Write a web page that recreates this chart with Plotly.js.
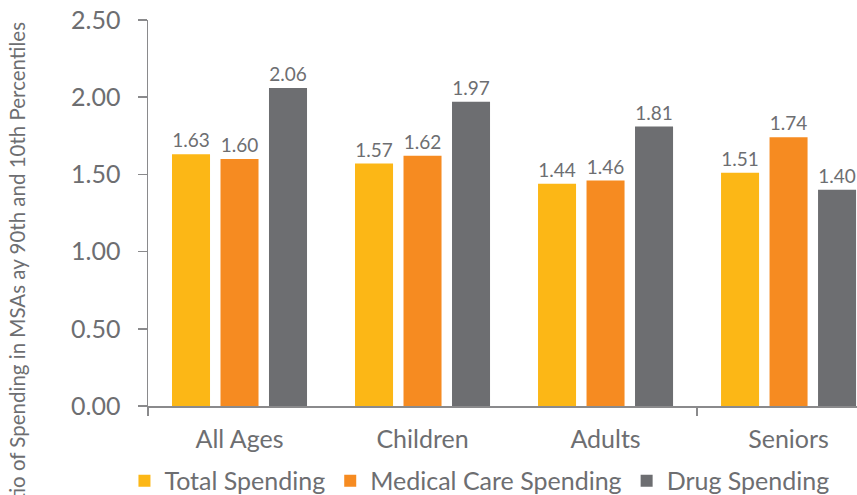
<!DOCTYPE html>
<html>
<head>
<meta charset="utf-8">
<script src="https://cdn.plot.ly/plotly-3.0.1.min.js"></script>
<style>html,body{margin:0;padding:0;background:#fff;}#chart{width:857px;height:495px;}</style>
</head>
<body>
<div id="chart"></div>
<script>
const categories = ["All Ages", "Children", "Adults", "Seniors"];
const totalSpending = [1.63, 1.57, 1.44, 1.51];
const medicalSpending = [1.60, 1.62, 1.46, 1.74];
const drugSpending = [2.06, 1.97, 1.81, 1.40];
const seriesNames = ["Total Spending", "Medical Care Spending", "Drug Spending"];
const yTickVals = [0, 0.5, 1.0, 1.5, 2.0, 2.5];
const yTickText = ["0.00", "0.50", "1.00", "1.50", "2.00", "2.50"];
const yTitle = "Ratio of Spending in MSAs ay 90th and 10th Percentiles";

const FONT = "Lato, 'Open Sans', sans-serif";
const TXT = "#6d6e71";
const colors = ["#fcb716", "#f68b21", "#6d6e71"];
const values = [totalSpending, medicalSpending, drugSpending];

const traces = values.map((v, i) => ({
  type: "bar",
  name: seriesNames[i],
  x: categories,
  y: v,
  marker: {color: colors[i]},
  text: v.map(d => d.toFixed(2)),
  textposition: "outside",
  textfont: {family: FONT, size: 19, color: TXT},
  cliponaxis: false,
  hoverinfo: "x+y+name"
}));

const layout = {
  width: 857, height: 495,
  margin: {l: 148, r: 0, t: 20, b: 89, autoexpand: false},
  paper_bgcolor: "#fff", plot_bgcolor: "#fff",
  font: {family: FONT, color: TXT},
  barmode: "group",
  bargap: 0.205,
  bargroupgap: 0.216,
  showlegend: true,
  legend: {
    orientation: "h", x: 0.4675, xanchor: "center", y: -0.194, yanchor: "middle",
    font: {family: FONT, size: 25, color: TXT},
    itemwidth: 30, traceorder: "normal"
  },
  xaxis: {
    type: "category",
    range: [-0.5, 3.374],
    showgrid: false, zeroline: false,
    showline: true, linecolor: "#8a8a8c", linewidth: 1.5,
    ticks: "", ticklabelstandoff: 10,
    tickfont: {family: FONT, size: 25, color: TXT}
  },
  xaxis2: {
    overlaying: "x", anchor: "y", side: "bottom",
    range: [-0.5, 3.374],
    tickvals: [-0.5, 2.5],
    ticks: "outside", ticklen: 9, tickwidth: 1.5, tickcolor: "#8a8a8c",
    showticklabels: false, showgrid: false, zeroline: false, showline: false
  },
  yaxis: {
    range: [0, 2.5],
    tickvals: yTickVals, ticktext: yTickText,
    showgrid: false, zeroline: false,
    showline: true, linecolor: "#8a8a8c", linewidth: 1.5,
    ticks: "outside", ticklen: 9, tickwidth: 1.5, tickcolor: "#8a8a8c",
    ticklabelstandoff: 12,
    tickfont: {family: FONT, size: 25, color: TXT}
  },
  annotations: [{
    text: yTitle, textangle: -90,
    xref: "paper", yref: "paper",
    x: -0.185, xanchor: "center",
    y: 1.0, yanchor: "top",
    showarrow: false,
    font: {family: FONT, size: 20.5, color: TXT}
  }]
};

Plotly.newPlot("chart", traces.concat([{type: "scatter", x: [], y: [], xaxis: "x2", showlegend: false, hoverinfo: "skip"}]), layout, {staticPlot: true});
</script>
</body>
</html>
